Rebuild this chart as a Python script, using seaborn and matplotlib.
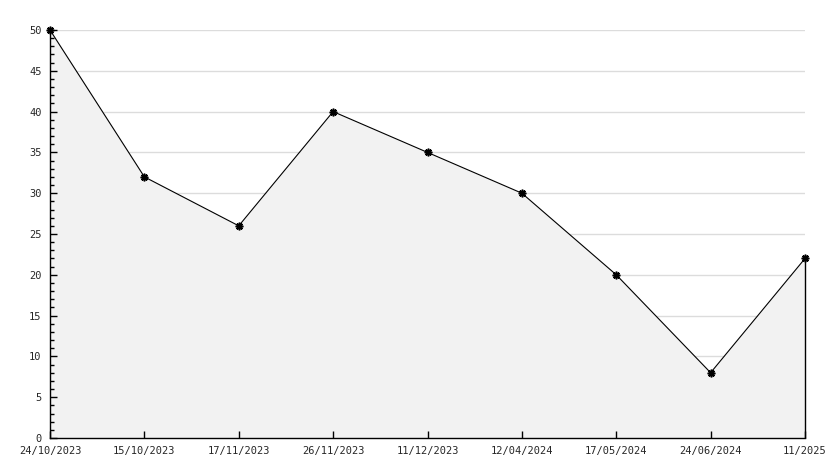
import matplotlib
matplotlib.use("Agg")
import matplotlib.pyplot as plt
import seaborn as sns
import pandas as pd
from matplotlib.ticker import MultipleLocator

dates = ["24/10/2023", "15/10/2023", "17/11/2023", "26/11/2023", "11/12/2023",
         "12/04/2024", "17/05/2024", "24/06/2024", "11/2025"]
values = [50, 32, 26, 40, 35, 30, 20, 8, 22]

df = pd.DataFrame({"pos": range(len(dates)), "value": values})

sns.set_style("white")
plt.rcParams["font.family"] = ["DejaVu Sans Mono"]

fig = plt.figure(figsize=(8.34, 4.68), dpi=100)
ax = fig.add_axes([50 / 834, 30 / 468, 755 / 834, 408 / 468])

ax.set_xlim(0, len(dates) - 1)
ax.set_ylim(0, 50)
ax.set_xticks(df["pos"])
ax.set_xticklabels(dates)
ax.yaxis.set_major_locator(MultipleLocator(5))
ax.yaxis.set_minor_locator(MultipleLocator(1))

# grid sits under the filled area, ticks stay on top
ax.hlines(ax.get_yticks()[1:], 0, len(dates) - 1, color="#dcdcdc", linewidth=1, zorder=0)
ax.fill_between(df["pos"], 0, df["value"], color="#f2f2f2", zorder=1, linewidth=0)
ax.vlines(df["pos"].iloc[-1], 0, df["value"].iloc[-1], color="black", linewidth=1,
          zorder=2, clip_on=False)
sns.lineplot(data=df, x="pos", y="value", ax=ax, color="black", linewidth=0.8,
             marker=(8, 2, 0), markersize=5.5, markeredgewidth=1.2,
             markeredgecolor="black", zorder=3, clip_on=False)
ax.set_ylim(0, 50)
ax.set_axisbelow(False)

ax.tick_params(axis="y", which="major", direction="in", length=5, width=1,
               labelsize=7.5, pad=6, left=True, color="black")
ax.tick_params(axis="y", which="minor", direction="in", length=3, width=1,
               left=True, color="black")
ax.tick_params(axis="x", which="major", direction="in", length=5, width=1,
               labelsize=7.5, pad=6, bottom=True, color="black")

for s in ["top", "right"]:
    ax.spines[s].set_visible(False)
for s in ["left", "bottom"]:
    ax.spines[s].set_color("black")
    ax.spines[s].set_linewidth(1)
ax.set_xlabel("")
ax.set_ylabel("")

fig.savefig("out.png", dpi=100)
